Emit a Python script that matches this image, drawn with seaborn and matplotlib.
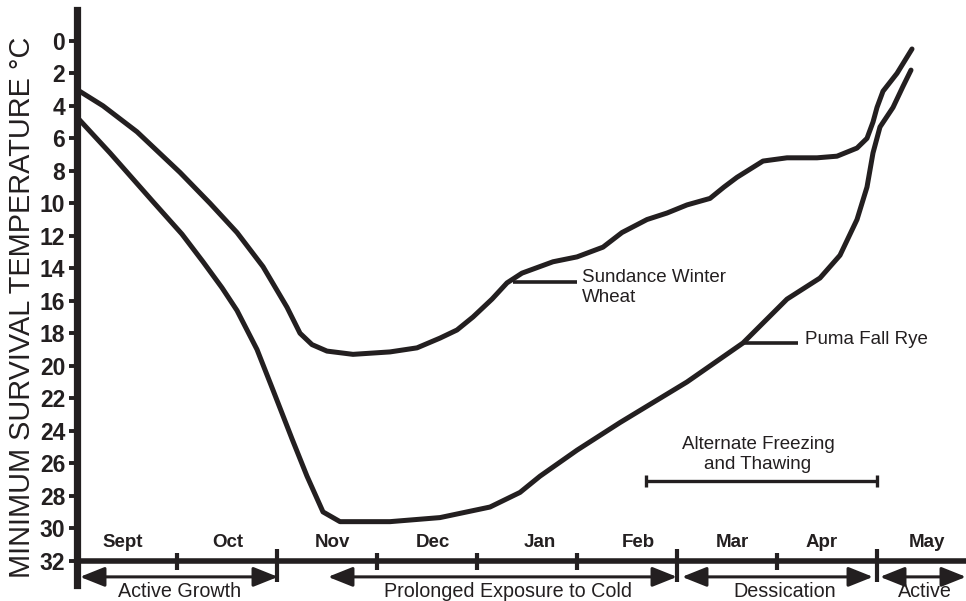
import numpy as np
import pandas as pd
import matplotlib
matplotlib.use("Agg")
import matplotlib.pyplot as plt
import seaborn as sns

# ---------------- data ----------------
wheat_month = [0.00, 0.26, 0.60, 1.03, 1.33, 1.60, 1.86, 2.10, 2.23, 2.35, 2.50, 2.76,
               3.13, 3.40, 3.63, 3.80, 3.96, 4.15, 4.30, 4.45, 4.76, 5.00, 5.26, 5.45,
               5.70, 5.90, 6.10, 6.33, 6.47, 6.60, 6.86, 7.10, 7.40, 7.60, 7.80, 7.90,
               7.96, 8.00, 8.06, 8.20, 8.35]
wheat_temp = [3.0, 4.0, 5.6, 8.1, 10.0, 11.8, 13.9, 16.4, 18.0, 18.7, 19.1, 19.3,
              19.15, 18.9, 18.3, 17.8, 17.0, 15.9, 14.9, 14.3, 13.6, 13.3, 12.7, 11.8,
              11.0, 10.6, 10.1, 9.7, 9.0, 8.4, 7.4, 7.2, 7.2, 7.1, 6.6, 6.0,
              5.0, 4.1, 3.1, 2.0, 0.5]

rye_month = [0.00, 0.33, 0.76, 1.05, 1.26, 1.45, 1.60, 1.80, 1.96, 2.15, 2.30, 2.46,
             2.63, 3.13, 3.63, 4.13, 4.43, 4.63, 5.00, 5.43, 6.10, 6.66, 7.10, 7.43,
             7.63, 7.80, 7.90, 7.96, 8.03, 8.16, 8.26, 8.34]
rye_temp = [4.7, 6.9, 9.9, 11.9, 13.6, 15.2, 16.6, 19.0, 21.5, 24.5, 26.8, 29.0,
            29.6, 29.6, 29.35, 28.7, 27.8, 26.8, 25.2, 23.5, 21.0, 18.6, 15.9, 14.6,
            13.2, 11.0, 9.0, 6.9, 5.3, 4.1, 2.8, 1.8]

month_labels = ["Sept", "Oct", "Nov", "Dec", "Jan", "Feb", "Mar", "Apr", "May"]
month_label_pos = [0.46, 1.51, 2.55, 3.56, 4.63, 5.61, 6.55, 7.45, 8.50]
month_bounds = [1, 2, 3, 4, 5, 6, 7, 8]
phase_bounds = [2, 6, 8]

phase_labels = ["Active Growth", "Prolonged Exposure to Cold", "Dessication", "Active"]
phase_start = [0.03, 2.51, 6.05, 8.03]
phase_end = [2.01, 6.00, 7.96, 8.89]
phase_label_pos = [1.03, 4.31, 7.08, 8.48]

yticks = list(range(0, 33, 2))

df = pd.concat([
    pd.DataFrame({"month": wheat_month, "temp": wheat_temp, "crop": "Sundance Winter Wheat"}),
    pd.DataFrame({"month": rye_month, "temp": rye_temp, "crop": "Puma Fall Rye"}),
])

# ---------------- style ----------------
sns.set_theme(style="white")
plt.rcParams["font.family"] = ["Liberation Sans", "DejaVu Sans"]
INK = "#231f20"

fig = plt.figure(figsize=(9.66, 6.01), dpi=100)
ax = fig.add_axes([77 / 966, 1 - 585 / 601, 1 - 77 / 966, (585 - 10) / 601])

sns.lineplot(data=df, x="month", y="temp", hue="crop", units="crop", estimator=None,
             sort=False, palette=[INK, INK], linewidth=3.6, legend=False, ax=ax)

ax.set_xlim(0, 8.89)
ax.set_ylim(33.5, -1.9)

# spines
for s in ["top", "right", "bottom"]:
    ax.spines[s].set_visible(False)
ax.spines["left"].set_linewidth(5.2)
ax.spines["left"].set_color(INK)

ax.set_yticks(yticks)
ax.set_yticklabels([str(t) for t in yticks], fontsize=16.5, fontweight="bold", color=INK)
ax.tick_params(axis="y", direction="out", length=6, width=2.8, color=INK, pad=2.5, left=True)
ax.set_xticks([])
ax.set_xlabel("")
ax.set_ylabel("")
fig.text(22 / 966, 1 - 307 / 601, "MINIMUM SURVIVAL TEMPERATURE °C", rotation=90,
         ha="center", va="center", fontsize=20.8, color=INK)

# month axis line at 32
ax.axhline(32, color=INK, lw=4.0, zorder=3)
for b in month_bounds:
    if b in phase_bounds:
        ax.plot([b, b], [31.3, 33.3], color=INK, lw=3.0, solid_capstyle="butt", clip_on=False)
    else:
        ax.plot([b, b], [31.5, 32.55], color=INK, lw=3.0, solid_capstyle="butt", clip_on=False)

for lab, pos in zip(month_labels, month_label_pos):
    ax.text(pos, 30.9, lab, ha="center", va="center", fontsize=13.5,
            fontweight="bold", color=INK)

# phase arrows
for lab, a, b, p in zip(phase_labels, phase_start, phase_end, phase_label_pos):
    ax.annotate("", xy=(b, 33.0), xytext=(a, 33.0), annotation_clip=False,
                arrowprops=dict(arrowstyle="<|-|>,head_length=0.75,head_width=0.3",
                                color=INK, lw=2.2, shrinkA=0, shrinkB=0,
                                mutation_scale=20))
    ax.text(p, 33.9, lab, ha="center", va="center", fontsize=14.2, color=INK,
            clip_on=False)

# annotations
ax.plot([4.36, 5.00], [14.83, 14.83], color=INK, lw=2.6, solid_capstyle="butt")
ax.text(5.05, 15.2, "Sundance Winter\nWheat", ha="left", va="center",
        fontsize=13.5, color=INK, linespacing=1.25)
ax.plot([6.66, 7.21], [18.58, 18.58], color=INK, lw=2.6, solid_capstyle="butt")
ax.text(7.28, 18.4, "Puma Fall Rye", ha="left", va="center", fontsize=13.5, color=INK)

ax.plot([5.69, 8.00], [27.08, 27.08], color=INK, lw=2.4, solid_capstyle="butt")
for xx in [5.69, 8.00]:
    ax.plot([xx, xx], [26.7, 27.45], color=INK, lw=2.4, solid_capstyle="butt")
ax.text(6.81, 25.45, "Alternate Freezing\nand Thawing", ha="center", va="center",
        fontsize=13.5, color=INK, linespacing=1.2, multialignment="center")

fig.savefig("out.png", dpi=100)
